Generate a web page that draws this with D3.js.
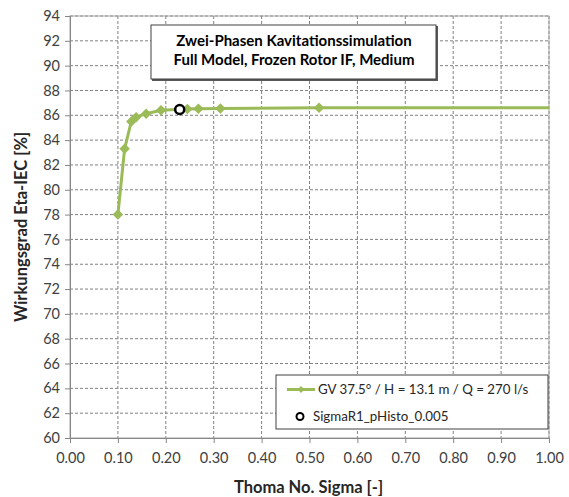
<!DOCTYPE html>
<html>
<head>
<meta charset="utf-8">
<script src="https://cdn.jsdelivr.net/npm/d3@7"></script>
<style>
  body { margin: 0; background: #fff; }
  text { font-family: Lato, "Open Sans", sans-serif; }
  .tick text { fill: #404040; font-size: 14.5px; }
</style>
</head>
<body>
<svg width="569" height="497"></svg>
<script>
// data
var sigma = [0.100, 0.114, 0.128, 0.138, 0.159, 0.190, 0.245, 0.268, 0.314, 0.520, 1.50];
var eta   = [78.0, 83.3, 85.5, 85.85, 86.13, 86.4, 86.5, 86.53, 86.55, 86.6, 86.62];
var opSigma = [0.229];
var opEta   = [86.47];
var xTicks = d3.range(0, 1.001, 0.1);
var yTicks = d3.range(60, 94.1, 2);
var titleLines = ["Zwei-Phasen Kavitationssimulation", "Full Model, Frozen Rotor IF, Medium"];
var legendLabels = ["GV 37.5° / H = 13.1 m / Q = 270 l/s", "SigmaR1_pHisto_0.005"];

var svg = d3.select("svg"),
    margin = {top: 16, right: 20, bottom: 59, left: 70},
    width = 549 - margin.left,
    height = 438 - margin.top;

var green = "#9bbb59";

var x = d3.scaleLinear().domain([0, 1]).range([0, width]);
var y = d3.scaleLinear().domain([60, 94]).range([height, 0]);

var g = svg.append("g")
    .attr("transform", "translate(" + margin.left + "," + margin.top + ")");

// grid
g.append("g").selectAll("line")
  .data(yTicks.slice(1))
  .enter().append("line")
    .attr("x1", 0).attr("x2", width)
    .attr("y1", function(d) { return y(d); })
    .attr("y2", function(d) { return y(d); })
    .attr("stroke", "#808080").attr("stroke-dasharray", "3,2");

g.append("g").selectAll("line")
  .data(xTicks.slice(1))
  .enter().append("line")
    .attr("y1", 0).attr("y2", height)
    .attr("x1", function(d) { return x(d); })
    .attr("x2", function(d) { return x(d); })
    .attr("stroke", "#808080").attr("stroke-dasharray", "3,2");

// plot border
g.append("rect")
  .attr("width", width).attr("height", height)
  .attr("fill", "none").attr("stroke", "#a6a6a6");

// axes
var xAxis = g.append("g")
  .attr("transform", "translate(0," + height + ")")
  .call(d3.axisBottom(x).tickValues(xTicks).tickSize(5).tickPadding(10).tickFormat(d3.format(".2f")));
var yAxis = g.append("g")
  .call(d3.axisLeft(y).tickValues(yTicks).tickSize(5).tickPadding(5).tickFormat(d3.format("d")));
[xAxis, yAxis].forEach(function(a) {
  a.selectAll("path, line").attr("stroke", "#868686");
});

svg.append("text")
  .attr("transform", "translate(27," + (margin.top + height / 2) + ") rotate(-90)")
  .attr("text-anchor", "middle")
  .attr("font-weight", "bold").attr("font-size", 16.5).attr("fill", "#262626")
  .text("Wirkungsgrad Eta-IEC [%]");

svg.append("text")
  .attr("x", margin.left + width / 2 - 1).attr("y", 493)
  .attr("text-anchor", "middle")
  .attr("font-weight", "bold").attr("font-size", 16.5).attr("fill", "#262626")
  .text("Thoma No. Sigma [-]");

// series
var pts = sigma.map(function(s, i) { return [s, eta[i]]; });

svg.append("clipPath").attr("id", "clip")
  .append("rect").attr("width", width).attr("height", height);

var plot = g.append("g").attr("clip-path", "url(#clip)");

plot.append("path")
  .datum(pts)
  .attr("fill", "none").attr("stroke", green).attr("stroke-width", 3)
  .attr("d", d3.line().x(function(d) { return x(d[0]); }).y(function(d) { return y(d[1]); }));

var diamond = d3.symbol().type(d3.symbolDiamond2).size(70);

plot.selectAll(".pt")
  .data(pts)
  .enter().append("path")
    .attr("class", "pt")
    .attr("transform", function(d) { return "translate(" + x(d[0]) + "," + y(d[1]) + ")"; })
    .attr("d", diamond)
    .attr("fill", green);

g.selectAll(".op")
  .data(opSigma)
  .enter().append("circle")
    .attr("class", "op")
    .attr("cx", function(d) { return x(d); })
    .attr("cy", function(d, i) { return y(opEta[i]); })
    .attr("r", 4.5)
    .attr("fill", "#fff").attr("stroke", "#000").attr("stroke-width", 2.5);

// title box
var tb = svg.append("g").attr("transform", "translate(151,25)");
tb.append("rect").attr("x", 1).attr("y", 1).attr("width", 286).attr("height", 55).attr("fill", "#595959");
tb.append("rect").attr("width", 285).attr("height", 54)
  .attr("fill", "#fff").attr("stroke", "#404040").attr("stroke-width", 1);
tb.selectAll("text")
  .data(titleLines)
  .enter().append("text")
    .attr("x", 143).attr("y", function(d, i) { return 21 + i * 19; })
    .attr("text-anchor", "middle")
    .attr("font-weight", "bold").attr("font-size", 15).attr("fill", "#000")
    .text(function(d) { return d; });

// legend
var lg = svg.append("g").attr("transform", "translate(276,375)");
lg.append("rect").attr("width", 272).attr("height", 54)
  .attr("fill", "#fff").attr("stroke", "#404040");
lg.append("line").attr("x1", 11).attr("x2", 39).attr("y1", 14.5).attr("y2", 14.5)
  .attr("stroke", green).attr("stroke-width", 3);
lg.append("path").attr("transform", "translate(25,14.5)")
  .attr("d", d3.symbol().type(d3.symbolDiamond2).size(30)).attr("fill", green);
lg.append("circle").attr("cx", 24).attr("cy", 41.5).attr("r", 3.5)
  .attr("fill", "#fff").attr("stroke", "#000").attr("stroke-width", 2);
lg.selectAll(".lt")
  .data(legendLabels)
  .enter().append("text")
    .attr("class", "lt")
    .attr("x", function(d, i) { return i ? 37 : 42; })
    .attr("y", function(d, i) { return 19 + i * 27; })
    .attr("font-size", 13.3).attr("fill", "#262626")
    .text(function(d) { return d; });
</script>
</body>
</html>
